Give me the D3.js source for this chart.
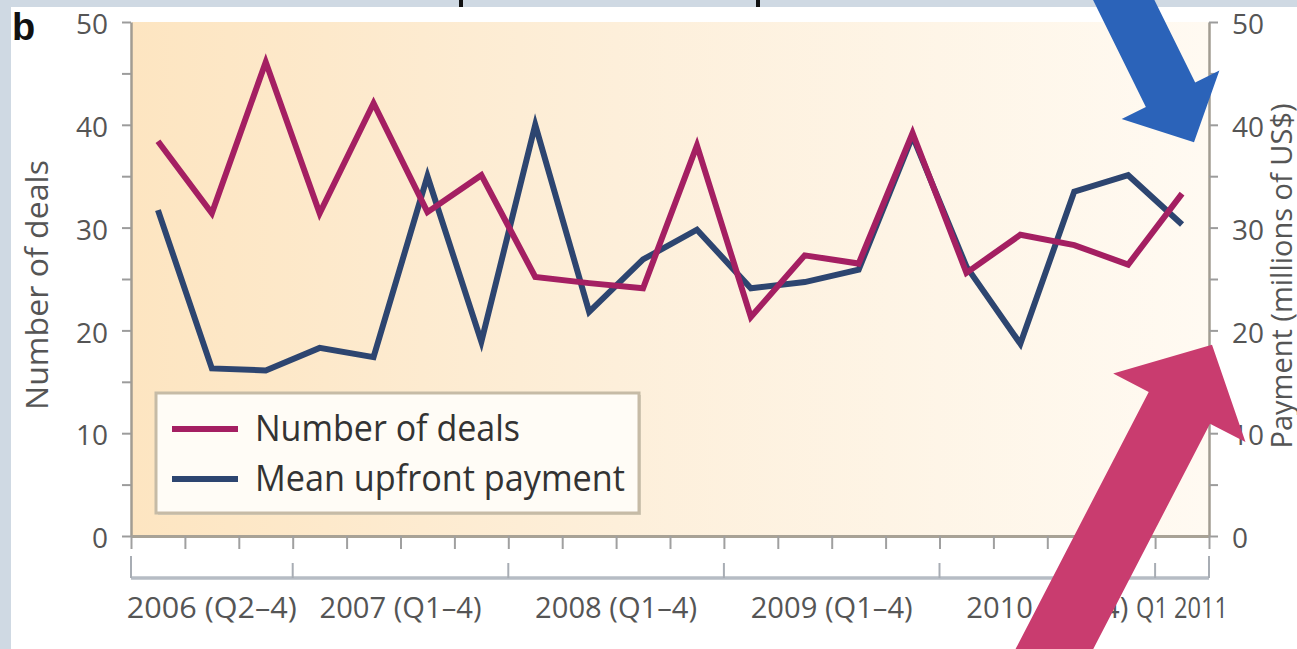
<!DOCTYPE html>
<html>
<head>
<meta charset="utf-8">
<script src="https://cdn.jsdelivr.net/npm/d3@7"></script>
<style>
  body { margin: 0; overflow: hidden; background: #fff; }
  svg { display: block; }
</style>
</head>
<body>
<svg id="chart" width="1297" height="649"></svg>
<script>
// quarterly data, 2006 Q2 .. 2011 Q1
var quarters = ["2006 Q2","2006 Q3","2006 Q4",
  "2007 Q1","2007 Q2","2007 Q3","2007 Q4",
  "2008 Q1","2008 Q2","2008 Q3","2008 Q4",
  "2009 Q1","2009 Q2","2009 Q3","2009 Q4",
  "2010 Q1","2010 Q2","2010 Q3","2010 Q4",
  "2011 Q1"]
var deals   = [38.4,31.4,46.1,31.4,42.1,31.5,35.1,25.2,24.6,24.1,38.0,21.3,27.3,26.5,39.2,25.6,29.3,28.3,26.4,33.3]
var payment = [31.7,16.3,16.1,18.3,17.4,35.0,18.9,40.0,21.8,26.9,29.8,24.1,24.7,25.9,38.9,26.2,18.7,33.5,35.1,30.3]
var yearLabels = ["2006 (Q2\u20134)","2007 (Q1\u20134)","2008 (Q1\u20134)","2009 (Q1\u20134)","2010 (Q1\u20134)","Q1 2011"]
var yearQuarterCounts = [3,4,4,4,4,1]
var axisTicks = [0,5,10,15,20,25,30,35,40,45,50]
var seriesNames = ["Number of deals","Mean upfront payment"]

// label widths in the source font (style only)
var yearLabelWidths = [170,162,162,162,162,92]
var legendWidths = [265,370]

var W = 1297, H = 649
var pinkCol = '#a41f62', blueCol = '#2d4570'
var font = '"Open Sans", "DejaVu Sans", sans-serif'
var n = quarters.length

var svg = d3.select('#chart')

svg.append('rect').attr('width', W).attr('height', H).attr('fill', '#cfd9e3')
svg.append('rect').attr('x', 11).attr('y', 7).attr('width', W - 11).attr('height', H - 7).attr('fill', '#fff')

// descenders of a title cut off at the top
svg.selectAll('.frag').data([461, 758]).enter().append('line')
  .attr('x1', function(d){ return d }).attr('x2', function(d){ return d })
  .attr('y1', 0).attr('y2', 7).attr('stroke', '#111').attr('stroke-width', 4)

var xIdx = d3.scaleLinear().domain([0, n]).range([131, 1209])
var yL = d3.scaleLinear().domain([0, 50]).range([536, 22])
var yR = d3.scaleLinear().domain([0, 50]).range([536, 22])

var grad = svg.append('defs').append('linearGradient').attr('id', 'bg')
  .attr('x1', 0).attr('x2', 1).attr('y1', 0).attr('y2', 0)
grad.append('stop').attr('offset', '0%').attr('stop-color', '#fde5c1')
grad.append('stop').attr('offset', '45%').attr('stop-color', '#fdefda')
grad.append('stop').attr('offset', '100%').attr('stop-color', '#fffaf2')

svg.append('rect')
  .attr('x', xIdx(0) + 1).attr('y', yL(50))
  .attr('width', xIdx(n) - xIdx(0) - 1).attr('height', yL(0) - yL(50))
  .attr('fill', 'url(#bg)')

function styleAxis(g){
  g.select('.domain').attr('stroke', '#a29c92').attr('stroke-width', 2.5)
  g.selectAll('.tick line').attr('stroke', '#9c9c9c').attr('stroke-width', 2)
  g.selectAll('.tick text').attr('font-family', font).attr('font-size', 28)
    .attr('fill', '#555').attr('dy', '0.42em')
}

var fmt = function(d){ return d % 10 ? '' : d }

var gL = svg.append('g').attr('transform', 'translate(' + xIdx(0) + ',0)')
  .call(d3.axisLeft(yL).tickValues(axisTicks).tickSize(9).tickSizeOuter(0).tickPadding(14).tickFormat(fmt))
styleAxis(gL)

var gR = svg.append('g').attr('transform', 'translate(' + xIdx(n) + ',0)')
  .call(d3.axisRight(yR).tickValues(axisTicks).tickSize(9).tickSizeOuter(0).tickPadding(14).tickFormat(fmt))
styleAxis(gR)

var gX = svg.append('g').attr('transform', 'translate(0,' + yL(0) + ')')
  .call(d3.axisBottom(xIdx).tickValues(d3.range(n + 1)).tickSize(13).tickSizeOuter(0).tickFormat(''))
gX.select('.domain').attr('stroke', '#a8a296').attr('stroke-width', 3)
gX.selectAll('.tick line').attr('stroke', '#a0a0a0').attr('stroke-width', 2)

// year brackets
var bounds = [0]
yearQuarterCounts.forEach(function(c){ bounds.push(bounds[bounds.length - 1] + c) })
var yearY = 578
svg.append('line').attr('x1', xIdx(0)).attr('x2', xIdx(n)).attr('y1', yearY).attr('y2', yearY)
  .attr('stroke', '#b6bcc4').attr('stroke-width', 3.5)
svg.selectAll('.ytick').data(bounds).enter().append('line')
  .attr('x1', function(d){ return xIdx(d) }).attr('x2', function(d){ return xIdx(d) })
  .attr('y1', yearY)
  .attr('y2', function(d, i){ return (i == 0 || i == bounds.length - 1) ? yearY - 22 : yearY - 15 })
  .attr('stroke', '#a8adb4').attr('stroke-width', 2)
svg.selectAll('.ylab').data(yearLabels).enter().append('text')
  .attr('x', function(d, i){ return xIdx((bounds[i] + bounds[i + 1]) / 2) })
  .attr('y', 618)
  .attr('text-anchor', 'middle')
  .attr('font-family', font).attr('font-size', 30).attr('fill', '#555')
  .attr('textLength', function(d, i){ return yearLabelWidths[i] })
  .attr('lengthAdjust', 'spacingAndGlyphs')
  .text(function(d){ return d })

// axis titles
svg.append('text').attr('transform', 'translate(48,285) rotate(-90)')
  .attr('text-anchor', 'middle').attr('font-family', font).attr('font-size', 31).attr('fill', '#555')
  .attr('textLength', 250).attr('lengthAdjust', 'spacingAndGlyphs')
  .text('Number of deals')
svg.append('text').attr('transform', 'translate(1292,276) rotate(-90)')
  .attr('text-anchor', 'middle').attr('font-family', font).attr('font-size', 29).attr('fill', '#555')
  .text('Payment (millions of US$)')

svg.append('text').attr('x', 12).attr('y', 40)
  .attr('font-family', 'Liberation Sans, Arial, sans-serif').attr('font-weight', 'bold')
  .attr('font-size', 38).attr('fill', '#111').text('b')

// series
var linePay = d3.line().x(function(d, i){ return xIdx(i + 0.5) }).y(function(d){ return yR(d) })
var lineDeals = d3.line().x(function(d, i){ return xIdx(i + 0.5) }).y(function(d){ return yL(d) })
svg.append('path').datum(payment).attr('d', linePay)
  .attr('fill', 'none').attr('stroke', blueCol).attr('stroke-width', 6).attr('stroke-linejoin', 'miter')
svg.append('path').datum(deals).attr('d', lineDeals)
  .attr('fill', 'none').attr('stroke', pinkCol).attr('stroke-width', 6).attr('stroke-linejoin', 'miter')

// legend
var lg = svg.append('g').attr('transform', 'translate(156,393)')
lg.append('rect').attr('x', 2).attr('y', 2).attr('width', 483).attr('height', 120).attr('fill', '#d9cfbc')
lg.append('rect').attr('width', 483).attr('height', 120)
  .attr('fill', '#fffcf6').attr('stroke', '#c6bba6').attr('stroke-width', 3)
var items = lg.selectAll('.item').data(seriesNames).enter().append('g')
  .attr('transform', function(d, i){ return 'translate(0,' + (36 + i * 50) + ')' })
items.append('line').attr('x1', 16).attr('x2', 82).attr('y1', 0).attr('y2', 0)
  .attr('stroke', function(d, i){ return i == 0 ? pinkCol : blueCol }).attr('stroke-width', 6)
items.append('text').attr('x', 99).attr('y', 12)
  .attr('font-family', font).attr('font-size', 37).attr('fill', '#333')
  .attr('textLength', function(d, i){ return legendWidths[i] })
  .attr('lengthAdjust', 'spacingAndGlyphs')
  .text(function(d){ return d })

// annotation arrows
function arrow(tx, ty, dx, dy, len, shaftW, headW, headL, col){
  var m = Math.sqrt(dx * dx + dy * dy); dx /= m; dy /= m
  var px = -dy, py = dx
  var bx = tx - dx * headL, by = ty - dy * headL
  var ex = tx - dx * len, ey = ty - dy * len
  var pts = [
    [tx, ty],
    [bx + px * headW / 2, by + py * headW / 2],
    [bx + px * shaftW / 2, by + py * shaftW / 2],
    [ex + px * shaftW / 2, ey + py * shaftW / 2],
    [ex - px * shaftW / 2, ey - py * shaftW / 2],
    [bx - px * shaftW / 2, by - py * shaftW / 2],
    [bx - px * headW / 2, by - py * headW / 2]
  ]
  svg.append('path').attr('d', 'M' + pts.join('L') + 'Z').attr('fill', col)
}
arrow(xIdx(n) - 15, yR(38.3), 0.443, 0.897, 220, 55, 109, 53, '#2b63b9')
arrow(xIdx(n) + 3, yR(18.6), 0.46, -0.888, 420, 69, 149, 71, '#c93c6f')
</script>
</body>
</html>
